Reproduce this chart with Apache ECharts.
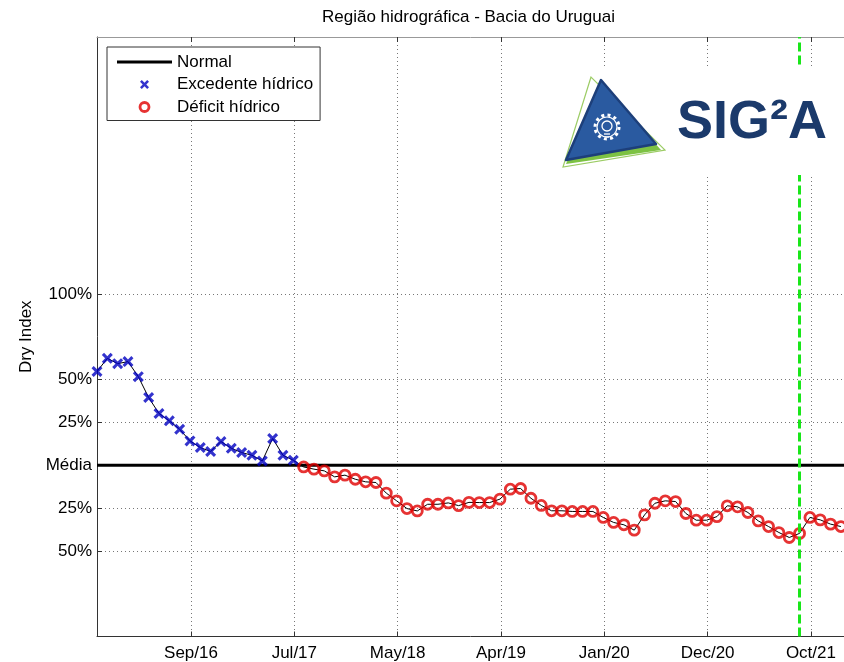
<!DOCTYPE html>
<html>
<head>
<meta charset="utf-8">
<title>Região hidrográfica - Bacia do Uruguai</title>
<script src="https://cdn.jsdelivr.net/npm/echarts@6/dist/echarts.min.js"></script>
<style>
  html, body { margin: 0; padding: 0; background: #fff; }
  #chart { width: 844px; height: 662px; }
</style>
</head>
<body>
<div id="chart"></div>
<script>
// dry index mensal (% acima (+) ou abaixo (-) da média), um valor por mês
const dryIndex = [
  54.7, 62.4, 59.3, 60.5, 51.7, 39.5, 30.2, 25.9, 21.0, 14.2,
  10.3, 8.0, 13.8, 9.9, 7.4, 5.8, 2.5, 15.6, 5.8, 2.9,
  -1.0, -2.3, -3.3, -6.8, -5.8, -8.2, -9.7, -10.1, -16.3, -20.8,
  -25.3, -26.7, -22.8, -22.8, -22.0, -23.6, -21.7, -21.8, -21.8, -19.8,
  -14.0, -13.6, -19.3, -23.5, -26.6, -26.6, -27.0, -27.0, -27.0, -30.5,
  -33.4, -34.8, -37.9, -29.0, -22.2, -20.8, -21.2, -28.2, -32.1, -32.1,
  -30.0, -23.7, -24.3, -27.6, -32.5, -35.8, -39.3, -42.2, -39.8, -30.5,
  -31.9, -34.4, -35.8
];
// posições dos ticks (em meses a partir do 1o ponto) e seus rótulos
const xTickPos = [9.1, 19.1, 29.1, 39.1, 49.1, 59.1, 69.1];
const xTickLabels = ['Sep/16', 'Jul/17', 'May/18', 'Apr/19', 'Jan/20', 'Dec/20', 'Oct/21'];
const yTickValues = [-50, -25, 0, 25, 50, 100];
const cutMonth = 68; // linha verde tracejada
const xMax = 72.3;   // o gráfico original está cortado à direita

const FONT = 'Liberation Sans, Arial, sans-serif';

const linePts = dryIndex.map((v, i) => [i, v]);
const excedente = linePts.filter(p => p[1] >= 0);
const deficit = linePts.filter(p => p[1] < 0);

const xPath = 'path://M0,2L2,0L5,3L8,0L10,2L7,5L10,8L8,10L5,7L2,10L0,8L3,5Z';

function xLabel(v) {
  const i = xTickPos.findIndex(p => Math.abs(p - v) < 1e-6);
  return i >= 0 ? xTickLabels[i] : '';
}

const chart = echarts.init(document.getElementById('chart'));

const option = {
  animation: false,
  backgroundColor: '#fff',
  title: {
    text: 'Região hidrográfica - Bacia do Uruguai',
    left: 322,
    top: 9,
    padding: 0,
    textStyle: { fontFamily: FONT, fontSize: 17, fontWeight: 'normal', color: '#000' }
  },
  grid: {
    left: 97,
    top: 37,
    bottom: 24,
    right: 0,
    show: false,
    containLabel: false
  },
  legend: {
    orient: 'vertical',
    left: 107,
    top: 47,
    padding: [6.5, 7, 5, 10],
    itemWidth: 55,
    itemHeight: 9,
    itemGap: 5.5,
    backgroundColor: '#fff',
    borderColor: '#333',
    borderWidth: 1,
    borderRadius: 0,
    symbolKeepAspect: true,
    selectedMode: false,
    textStyle: { fontFamily: FONT, fontSize: 17, color: '#000' },
    data: [
      { name: 'Normal', icon: 'path://M0,0L55,0L55,3L0,3Z', itemStyle: { color: '#000', borderWidth: 0 } },
      { name: 'Excedente hídrico', icon: xPath, itemStyle: { color: '#0000c0', borderWidth: 0 } },
      { name: 'Déficit hídrico', icon: 'circle', itemStyle: { color: 'transparent', borderColor: '#e00000', borderWidth: 2.8 } }
    ]
  },
  xAxis: [
    {
      type: 'value',
      min: 0,
      max: xMax,
      axisLine: { onZero: false, lineStyle: { color: '#333', width: 1 } },
      axisTick: { inside: true, length: 5, customValues: xTickPos, lineStyle: { color: '#333' } },
      axisLabel: {
        customValues: xTickPos,
        formatter: xLabel,
        margin: 8.5,
        fontFamily: FONT,
        fontSize: 17,
        color: '#000'
      },
      splitLine: { show: true, lineStyle: { color: '#777', type: [1, 3], width: 1 } }
    },
    {
      type: 'value',
      position: 'top',
      min: 0,
      max: xMax,
      axisLine: { onZero: false, lineStyle: { color: '#999', width: 1 } },
      axisTick: { inside: true, length: 5, customValues: xTickPos, lineStyle: { color: '#333' } },
      axisLabel: { show: false },
      splitLine: { show: false }
    }
  ],
  yAxis: {
    type: 'value',
    min: -100,
    max: 250,
    name: 'Dry Index',
    nameLocation: 'middle',
    nameGap: 62,
    nameTextStyle: { fontFamily: FONT, fontSize: 17, color: '#000' },
    axisLine: { show: true, onZero: false, lineStyle: { color: '#333', width: 1 } },
    axisTick: { show: true, inside: true, length: 5, customValues: yTickValues, lineStyle: { color: '#333' } },
    axisLabel: {
      customValues: yTickValues,
      formatter: v => (v === 0 ? 'Média' : Math.abs(v) + '%'),
      margin: 5,
      fontFamily: FONT,
      fontSize: 17,
      color: '#000'
    },
    splitLine: { show: true, lineStyle: { color: '#777', type: [1, 3], width: 1 } }
  },
  series: [
    {
      name: 'Normal',
      type: 'line',
      data: [[0, 0], [xMax, 0]],
      symbol: 'none',
      silent: true,
      lineStyle: { color: '#000', width: 3 },
      itemStyle: { color: '#000' },
      z: 2
    },
    {
      name: 'serie',
      type: 'line',
      data: linePts,
      symbol: 'none',
      silent: true,
      lineStyle: { color: '#000', width: 1 },
      z: 3
    },
    {
      name: 'Excedente hídrico',
      type: 'scatter',
      data: excedente,
      symbol: xPath,
      symbolSize: 11,
      silent: true,
      itemStyle: { color: '#0000c0' },
      z: 4
    },
    {
      name: 'Déficit hídrico',
      type: 'scatter',
      data: deficit,
      symbol: 'circle',
      symbolSize: 10,
      silent: true,
      itemStyle: { color: 'transparent', borderColor: '#e00000', borderWidth: 2.8 },
      z: 4,
      markLine: {
        silent: true,
        symbol: 'none',
        label: { show: false },
        lineStyle: { color: '#19e619', width: 3, type: [9, 4] },
        data: [{ xAxis: cutMonth }]
      }
    }
  ],
  graphic: [
    // fundo branco do logo SIG²A
    { type: 'rect', z: 100, shape: { x: 555, y: 66, width: 300, height: 109 }, style: { fill: '#fff' } },
    { type: 'polygon', z: 101, shape: { points: [[591, 77], [563, 167], [665, 150]] }, style: { fill: 'none', stroke: '#9ccc65', lineWidth: 1.2 } },
    { type: 'polygon', z: 102, shape: { points: [[601, 83], [566, 164], [661, 150]] }, style: { fill: '#7dc243' } },
    { type: 'polygon', z: 103, shape: { points: [[601, 80], [566, 160], [656, 144]] }, style: { fill: '#2a5aa0', stroke: '#1d3f7a', lineWidth: 2.5, lineJoin: 'round' } },
    // engrenagem + lâmpada
    { type: 'circle', z: 104, shape: { cx: 607, cy: 127, r: 12 }, style: { fill: 'none', stroke: '#fff', lineWidth: 3, lineDash: [3, 3.3] } },
    { type: 'circle', z: 104, shape: { cx: 607, cy: 127, r: 10 }, style: { fill: 'none', stroke: '#fff', lineWidth: 1.2 } },
    { type: 'circle', z: 104, shape: { cx: 607, cy: 126, r: 5 }, style: { fill: 'none', stroke: '#fff', lineWidth: 1.3 } },
    { type: 'line', z: 104, shape: { x1: 604, y1: 134, x2: 610, y2: 134 }, style: { stroke: '#fff', lineWidth: 1.3 } },
    { type: 'line', z: 104, shape: { x1: 605, y1: 137, x2: 609, y2: 137 }, style: { stroke: '#fff', lineWidth: 1.3 } },
    {
      type: 'text', z: 105, x: 677, y: 123,
      style: { text: 'SIG²A', fill: '#1b3a6b', font: 'bold 54px ' + FONT, verticalAlign: 'middle' }
    }
  ]
};

chart.setOption(option);
</script>
</body>
</html>
